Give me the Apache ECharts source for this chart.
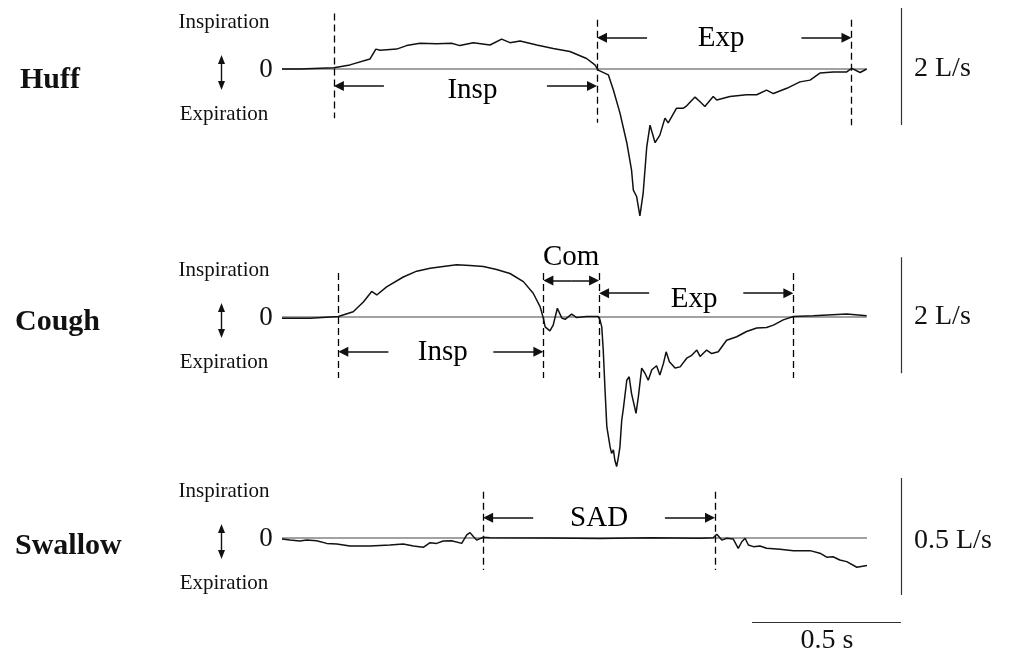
<!DOCTYPE html>
<html><head><meta charset="utf-8">
<script src="https://cdn.jsdelivr.net/npm/echarts@6/dist/echarts.min.js"></script>
<style>html,body{margin:0;padding:0;background:#fff}#c{width:1013px;height:655px}</style>
</head><body><div id="c"></div>
<script>
// ---------- DATA (time in s, flow in L/s; + = inspiration) ----------
const huffT = [0, 0.060, 0.174, 0.228, 0.295, 0.315, 0.329, 0.385, 0.418, 0.463, 0.519, 0.569, 0.597, 0.642, 0.698, 0.737, 0.765, 0.799, 0.855, 0.910, 0.966, 1.022, 1.050, 1.061, 1.095, 1.112, 1.134, 1.157, 1.173, 1.179, 1.190, 1.201, 1.212, 1.224, 1.235, 1.252, 1.268, 1.285, 1.296, 1.324, 1.347, 1.358, 1.386, 1.403, 1.419, 1.447, 1.459, 1.503, 1.559, 1.593, 1.626, 1.649, 1.694, 1.738, 1.772, 1.805, 1.850, 1.895, 1.912, 1.940, 1.962];
const huffV = [0, 0, 0.02, 0.07, 0.17, 0.34, 0.32, 0.34, 0.40, 0.44, 0.43, 0.44, 0.40, 0.45, 0.41, 0.51, 0.45, 0.48, 0.41, 0.35, 0.30, 0.18, 0.07, -0.02, -0.10, -0.36, -0.75, -1.26, -1.73, -2.07, -2.18, -2.51, -2.12, -1.33, -0.96, -1.26, -1.13, -0.84, -0.92, -0.67, -0.67, -0.63, -0.48, -0.56, -0.64, -0.47, -0.53, -0.47, -0.44, -0.44, -0.36, -0.42, -0.33, -0.22, -0.19, -0.07, -0.05, -0.05, 0.01, -0.06, 0];

const coughT = [0, 0.094, 0.189, 0.239, 0.273, 0.301, 0.318, 0.351, 0.407, 0.452, 0.497, 0.541, 0.586, 0.631, 0.676, 0.720, 0.765, 0.810, 0.843, 0.866, 0.877, 0.883, 0.899, 0.910, 0.924, 0.939, 0.950, 0.972, 0.989, 1.022, 1.061, 1.067, 1.073, 1.078, 1.084, 1.090, 1.101, 1.106, 1.112, 1.117, 1.123, 1.129, 1.134, 1.140, 1.145, 1.157, 1.165, 1.173, 1.188, 1.196, 1.207, 1.218, 1.229, 1.241, 1.257, 1.268, 1.280, 1.289, 1.300, 1.319, 1.336, 1.358, 1.375, 1.392, 1.403, 1.425, 1.442, 1.464, 1.492, 1.526, 1.559, 1.593, 1.626, 1.649, 1.682, 1.716, 1.783, 1.895, 1.962];
const coughV = [-0.02, -0.02, 0.01, 0.09, 0.26, 0.44, 0.38, 0.52, 0.69, 0.79, 0.84, 0.87, 0.90, 0.89, 0.87, 0.82, 0.75, 0.61, 0.41, 0.18, -0.02, -0.17, -0.24, -0.14, 0.15, -0.02, -0.04, 0.05, -0.01, 0.01, 0.01, -0.05, -0.17, -0.57, -1.26, -1.89, -2.24, -2.35, -2.29, -2.47, -2.58, -2.41, -2.24, -1.78, -1.60, -1.09, -1.03, -1.32, -1.66, -1.37, -0.88, -0.97, -1.09, -0.91, -0.84, -1.00, -0.80, -0.60, -0.77, -0.88, -0.86, -0.71, -0.66, -0.57, -0.68, -0.57, -0.63, -0.60, -0.40, -0.34, -0.25, -0.19, -0.18, -0.14, -0.05, 0.01, 0.02, 0.05, 0.02];

const swallowT = [0, 0.027, 0.060, 0.083, 0.116, 0.150, 0.184, 0.228, 0.295, 0.362, 0.407, 0.441, 0.474, 0.497, 0.519, 0.541, 0.569, 0.603, 0.620, 0.631, 0.642, 0.653, 0.675, 0.698, 0.899, 1.067, 1.235, 1.403, 1.447, 1.459, 1.476, 1.492, 1.514, 1.531, 1.543, 1.554, 1.565, 1.582, 1.604, 1.626, 1.671, 1.716, 1.772, 1.805, 1.828, 1.849, 1.872, 1.895, 1.929, 1.963];
const swallowV = [-0.004, -0.009, -0.013, -0.009, -0.012, -0.023, -0.026, -0.034, -0.034, -0.030, -0.026, -0.034, -0.040, -0.020, -0.023, -0.013, -0.012, -0.023, 0.013, 0.023, 0.006, -0.009, 0.003, 0.001, 0.000, -0.002, 0.001, -0.001, 0.001, 0.016, -0.009, -0.001, -0.004, -0.044, -0.016, -0.001, -0.030, -0.037, -0.034, -0.044, -0.048, -0.054, -0.054, -0.065, -0.082, -0.080, -0.094, -0.101, -0.125, -0.118];

// event times (dashed lines), s
const huffEvents = [0.174, 1.057, 1.911];
const coughEvents = [0.189, 0.877, 1.064, 1.716];
const swallowEvents = [0.675, 1.453];

// phases between events
const huffPhases = [{name: 'Insp', from: 0, to: 1}, {name: 'Exp', from: 1, to: 2}];
const coughPhases = [{name: 'Insp', from: 0, to: 1}, {name: 'Com', from: 1, to: 2}, {name: 'Exp', from: 2, to: 3}];
const swallowPhases = [{name: 'SAD', from: 0, to: 1}];

const panelNames = ['Huff', 'Cough', 'Swallow'];
const flowScaleLabels = ['2 L/s', '2 L/s', '0.5 L/s'];
const flowScaleValues = [2, 2, 0.5];
const timeScaleValue = 0.5;
const timeScaleLabel = '0.5 s';

// ---------- LAYOUT ----------
const X0 = 282, PX_PER_S = 298, X_MAX = 2.1;
const FONT = '"Liberation Serif", "Times New Roman", serif';
const layout = [
  {zeroY: 69, ppu: 58.5, ymin: -2.7, ymax: 1.1,
   dashTop: [0.95, 0.84, 0.84], dashBot: [-0.84, -0.92, -0.96],
   levels: {Insp: -0.29, Exp: 0.535}, labelV: {Insp: -0.37, Exp: 0.52}, labelDx: {Insp: 7, Exp: -3},
   scaleLow: -0.957, nameY: 80, nameX: 20},
  {zeroY: 317, ppu: 58, ymin: -2.8, ymax: 1.2,
   dashTop: [0.76, 0.76, 0.76, 0.76], dashBot: [-1.05, -1.05, -1.05, -1.05],
   levels: {Insp: -0.60, Com: 0.63, Exp: 0.41}, labelV: {Insp: -0.61, Com: 1.03, Exp: 0.31}, labelDx: {Insp: 2, Com: 0, Exp: -2},
   scaleLow: -0.97, nameY: 322, nameX: 15},
  {zeroY: 538, ppu: 234, ymin: -0.4, ymax: 0.3,
   dashTop: [0.198, 0.198], dashBot: [-0.137, -0.137],
   levels: {SAD: 0.087}, labelV: {SAD: 0.085}, labelDx: {SAD: 0},
   scaleLow: -0.244, timeBarV: -0.359, nameY: 546, nameX: 15}
];
const SCALE_T = 2.077;      // x of vertical scale bars (s)
const SHAFT = 0.168;        // arrow shaft length (s)
const ARROW = 10;           // arrow head size px
const HEAD = (ARROW / 2) / PX_PER_S;

const traces = [[huffT, huffV], [coughT, coughV], [swallowT, swallowV]];
const events = [huffEvents, coughEvents, swallowEvents];
const phases = [huffPhases, coughPhases, swallowPhases];

const grids = [], xAxes = [], yAxes = [], series = [], graphics = [];
layout.forEach((L, i) => {
  grids.push({left: X0, width: X_MAX * PX_PER_S, top: L.zeroY - L.ymax * L.ppu, height: (L.ymax - L.ymin) * L.ppu});
  xAxes.push({type: 'value', gridIndex: i, min: 0, max: X_MAX, show: false});
  yAxes.push({type: 'value', gridIndex: i, min: L.ymin, max: L.ymax, show: false});
  const [T, V] = traces[i];
  const ax = {xAxisIndex: i, yAxisIndex: i};
  // zero baseline
  series.push(Object.assign({type: 'line', data: [[T[0], 0], [T[T.length - 1], 0]], showSymbol: false, silent: true,
    lineStyle: {color: '#444', width: 1}, z: 1, animation: false}, ax));
  // trace
  series.push(Object.assign({type: 'line', data: T.map((t, k) => [t, V[k]]), showSymbol: false, silent: true,
    lineStyle: {color: '#111', width: 1.5}, z: 3, animation: false}, ax));
  // dashed event lines
  series.push(Object.assign({type: 'lines', coordinateSystem: 'cartesian2d', silent: true, animation: false,
    data: events[i].map((t, k) => ({coords: [[t, L.dashTop[k]], [t, L.dashBot[k]]]})),
    lineStyle: {color: '#000', width: 1.3, type: [7, 4], opacity: 1}, z: 2}, ax));
  // arrows + labels
  const arrows = [], labels = [];
  phases[i].forEach(p => {
    const t0 = events[i][p.from], t1 = events[i][p.to], v = L.levels[p.name];
    const mid = (t0 + t1) / 2 + L.labelDx[p.name] / PX_PER_S;
    if (p.name === 'Com') {
      const m = (t0 + t1) / 2;
      arrows.push({coords: [[m, v], [t0 + HEAD, v]]});
      arrows.push({coords: [[m, v], [t1 - HEAD, v]]});
    } else {
      arrows.push({coords: [[t0 + SHAFT, v], [t0 + HEAD, v]]});
      arrows.push({coords: [[t1 - SHAFT, v], [t1 - HEAD, v]]});
    }
    labels.push({value: [mid, L.labelV[p.name]], name: p.name});
  });
  series.push(Object.assign({type: 'lines', coordinateSystem: 'cartesian2d', silent: true, animation: false,
    data: arrows, symbol: ['none', 'triangle'], symbolSize: ARROW,
    lineStyle: {color: '#111', width: 1.6, opacity: 1}, itemStyle: {color: '#111'}, z: 4}, ax));
  series.push(Object.assign({type: 'scatter', data: labels, symbolSize: 0, silent: true, animation: false,
    itemStyle: {color: '#fff', opacity: 1},
    label: {show: true, position: 'inside', formatter: '{b}', fontSize: 29, fontFamily: FONT, color: '#000', opacity: 1},
    emphasis: {disabled: true}, z: 5}, ax));
  // scale bars
  const bars = [{coords: [[SCALE_T, L.scaleLow], [SCALE_T, L.scaleLow + flowScaleValues[i]]]}];
  if (L.timeBarV !== undefined) bars.push({coords: [[SCALE_T - timeScaleValue, L.timeBarV], [SCALE_T, L.timeBarV]]});
  series.push(Object.assign({type: 'lines', coordinateSystem: 'cartesian2d', silent: true, animation: false,
    data: bars, lineStyle: {color: '#333', width: 1.2, opacity: 1}, z: 2}, ax));

  // left-hand labels
  const zy = L.zeroY;
  const txt = (text, x, y, font, align) => ({type: 'text', silent: true,
    style: {text, x, y, font, fill: '#111', align: align || 'center', verticalAlign: 'middle',
            textAlign: align || 'center', textVerticalAlign: 'middle'}});
  graphics.push(txt(panelNames[i], L.nameX, L.nameY, 'bold 30px ' + FONT, 'left'));
  graphics.push(txt('Inspiration', 224, zy - 47, '21px ' + FONT));
  graphics.push(txt('Expiration', 224, zy + 45, '21px ' + FONT));
  graphics.push(txt('0', 266, zy + 1, '27px ' + FONT));
  graphics.push({type: 'line', silent: true, shape: {x1: 221.5, y1: zy - 8, x2: 221.5, y2: zy + 15}, style: {stroke: '#111', lineWidth: 1.4}});
  graphics.push({type: 'polygon', silent: true, shape: {points: [[221.5, zy - 14], [218, zy - 5], [225, zy - 5]]}, style: {fill: '#111'}});
  graphics.push({type: 'polygon', silent: true, shape: {points: [[221.5, zy + 21], [218, zy + 12], [225, zy + 12]]}, style: {fill: '#111'}});
  graphics.push(txt(flowScaleLabels[i], 914, zy + (i === 2 ? 3 : 0), '28px ' + FONT, 'left'));
});
graphics.push({type: 'text', silent: true, style: {text: timeScaleLabel, x: 827, y: 641, font: '28px ' + FONT, fill: '#111',
  align: 'center', verticalAlign: 'middle', textAlign: 'center', textVerticalAlign: 'middle'}});

const chart = echarts.init(document.getElementById('c'), null, {renderer: 'canvas'});
chart.setOption({
  backgroundColor: '#fff',
  animation: false,
  grid: grids, xAxis: xAxes, yAxis: yAxes, series,
  graphic: {elements: graphics}
});
</script>
</body></html>
